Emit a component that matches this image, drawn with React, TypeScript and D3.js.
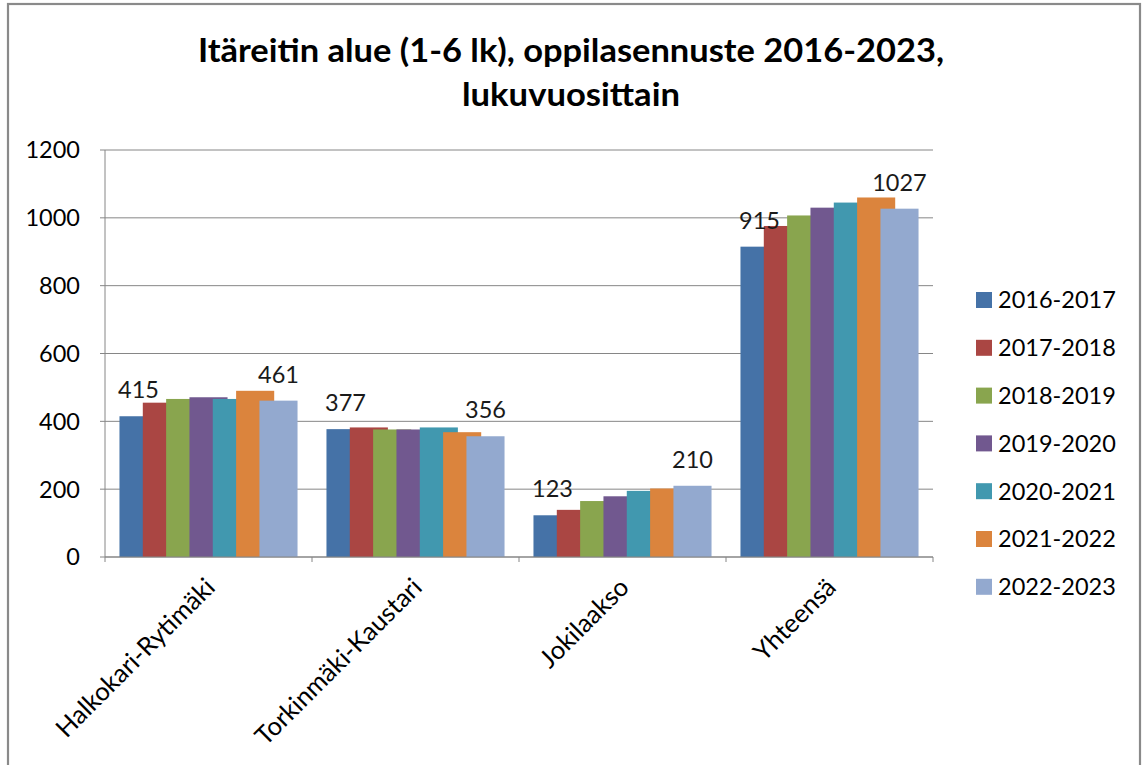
import React from "react";
import * as d3 from "d3";

const title1 = "Itäreitin alue (1-6 lk), oppilasennuste 2016-2023,";
const title2 = "lukuvuosittain";
const categories = ["Halkokari-Rytimäki", "Torkinmäki-Kaustari", "Jokilaakso", "Yhteensä"];
const seriesNames = ["2016-2017", "2017-2018", "2018-2019", "2019-2020", "2020-2021", "2021-2022", "2022-2023"];
const s2016 = [415, 377, 123, 915];
const s2017 = [455, 382, 139, 976];
const s2018 = [466, 376, 165, 1007];
const s2019 = [471, 376, 179, 1030];
const s2020 = [466, 382, 195, 1045];
const s2021 = [490, 368, 202, 1060];
const s2022 = [461, 356, 210, 1027];
const seriesValues = [s2016, s2017, s2018, s2019, s2020, s2021, s2022];
const colors = ["#4572A7", "#AA4643", "#89A54E", "#71588F", "#4198AF", "#DB843D", "#93A9CF"];
const yTicks = [0, 200, 400, 600, 800, 1000, 1200];
const labeledSeries = [0, 6];

const W = 1143;
const H = 765;
const left = 105;
const right = 933;
const top = 150;
const bottom = 557;
const FONT = "Lato, 'Open Sans', sans-serif";
const GRID = "#868686";

export default function App() {
  const x0 = d3.scaleBand<string>().domain(categories).range([left, right]).padding(0);
  const y = d3.scaleLinear().domain([0, 1200]).range([bottom, top]);
  const bw = x0.bandwidth();
  const step = bw * 0.1127;
  const barW = bw * 0.184;
  const total = step * (seriesNames.length - 1) + barW;
  const offset = (bw - total) / 2;
  const barX = (ci: number, si: number) => (x0(categories[ci]) as number) + offset + si * step;

  return (
    <svg width={W} height={H} style={{ position: "absolute", left: 0, top: 0, background: "#fff" }}>
      <rect x={8} y={4} width={1132} height={H + 10} fill="#fff" stroke="#8a8a8a" strokeWidth={2.2} />
      <text x={571} y={62} textAnchor="middle" fontFamily={FONT} fontWeight="bold" fontSize={33}
        textLength={746} lengthAdjust="spacingAndGlyphs" fill="#000">{title1}</text>
      <text x={571} y={106} textAnchor="middle" fontFamily={FONT} fontWeight="bold" fontSize={33}
        textLength={218} lengthAdjust="spacingAndGlyphs" fill="#000">{title2}</text>

      {yTicks.map((t) => (
        <g key={t}>
          <line x1={left - 5} x2={right} y1={y(t)} y2={y(t)} stroke={GRID} strokeWidth={1} />
          <text x={80} y={y(t)} dy="0.36em" textAnchor="end" fontFamily={FONT} fontSize={23.5} fill="#000">{t}</text>
        </g>
      ))}
      <line x1={left} x2={left} y1={top} y2={bottom} stroke={GRID} strokeWidth={1} />

      {seriesValues.map((vals, si) =>
        vals.map((v, ci) => (
          <rect key={`${si}-${ci}`} x={barX(ci, si)} y={y(v)} width={barW} height={bottom - y(v)} fill={colors[si]} />
        ))
      )}

      <line x1={left} x2={right} y1={bottom} y2={bottom} stroke={GRID} strokeWidth={1.2} />
      {categories.map((c) => (
        <line key={c} x1={(x0(c) as number)} x2={(x0(c) as number)} y1={bottom} y2={bottom + 5} stroke={GRID} />
      ))}
      <line x1={right} x2={right} y1={bottom} y2={bottom + 5} stroke={GRID} />

      {labeledSeries.map((si) =>
        seriesValues[si].map((v, ci) => (
          <text key={`l${si}-${ci}`} x={barX(ci, si) + barW / 2} y={y(v) - 18} textAnchor="middle"
            fontFamily={FONT} fontSize={23.5} fill="#1a1a1a">{v}</text>
        ))
      )}

      {categories.map((c) => {
        const cx = (x0(c) as number) + bw / 2 + 8;
        const cy = 589;
        return (
          <text key={c} x={cx} y={cy} textAnchor="end" transform={`rotate(-45, ${cx}, ${cy})`}
            fontFamily={FONT} fontSize={25.5} fill="#000">{c}</text>
        );
      })}

      {seriesNames.map((n, i) => {
        const cy = 300 + i * 47.8;
        return (
          <g key={n}>
            <rect x={976} y={cy - 8} width={16} height={16} fill={colors[i]} />
            <text x={998} y={cy} dy="0.36em" fontFamily={FONT} fontSize={23.5} fill="#000">{n}</text>
          </g>
        );
      })}
    </svg>
  );
}
